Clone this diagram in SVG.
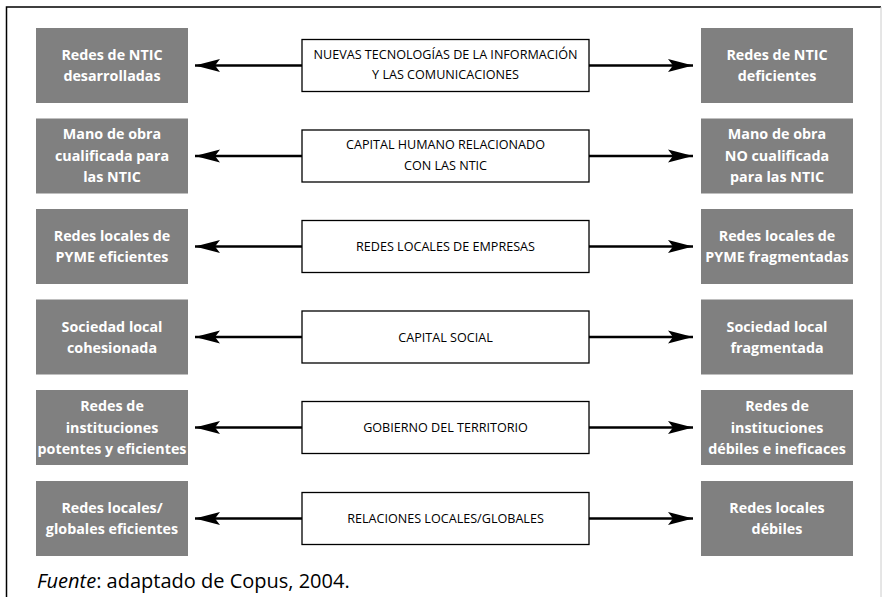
<svg xmlns="http://www.w3.org/2000/svg" width="882" height="597" viewBox="0 0 882 597">
<defs>
<marker id="ah" viewBox="0 0 25 14" refX="25" refY="7" markerWidth="25" markerHeight="14" markerUnits="userSpaceOnUse" orient="auto-start-reverse">
<path d="M0,0.5 L25,7 L0,13.5 L5,7 Z" fill="#000"/>
</marker>
<style>
.g{fill:#808080}
.c{fill:#fff;stroke:#000;stroke-width:1.3}
.gt{font-family:"Open Sans","Noto Sans",sans-serif;font-weight:bold;font-size:14.3px;fill:#fff;text-anchor:middle}
.ct{font-family:"Open Sans","Noto Sans",sans-serif;font-size:12.6px;fill:#000;text-anchor:middle}
.ln{stroke:#000;stroke-width:2.5;fill:none;marker-end:url(#ah)}
</style>
</defs>
<rect x="0" y="0" width="882" height="597" fill="#fff"/>
<path d="M6.5,597 V7 H881" fill="none" stroke="#000" stroke-width="1.5"/>
<line x1="881" y1="7" x2="881" y2="597" stroke="#ccc" stroke-width="1"/>

<g id="connectors">
<line class="ln" x1="302" y1="65.5" x2="195" y2="65.5"/>
<line class="ln" x1="589" y1="65.5" x2="693" y2="65.5"/>
<line class="ln" x1="302" y1="156" x2="195" y2="156"/>
<line class="ln" x1="589" y1="156" x2="693" y2="156"/>
<line class="ln" x1="302" y1="246.5" x2="195" y2="246.5"/>
<line class="ln" x1="589" y1="246.5" x2="693" y2="246.5"/>
<line class="ln" x1="302" y1="337" x2="195" y2="337"/>
<line class="ln" x1="589" y1="337" x2="693" y2="337"/>
<line class="ln" x1="302" y1="427.5" x2="195" y2="427.5"/>
<line class="ln" x1="589" y1="427.5" x2="693" y2="427.5"/>
<line class="ln" x1="302" y1="518.5" x2="195" y2="518.5"/>
<line class="ln" x1="589" y1="518.5" x2="693" y2="518.5"/>
</g>

<!-- Row 1 -->
<g id="l1"><rect class="g" x="36" y="28" width="152" height="75"/>
<text class="gt" x="112" y="60">Redes de NTIC</text><text class="gt" x="112" y="81">desarrolladas</text></g>
<g id="c1"><rect class="c" x="302" y="39.5" width="287" height="52"/>
<text class="ct" x="445.5" y="58.5">NUEVAS TECNOLOGÍAS DE LA INFORMACIÓN</text><text class="ct" x="445.5" y="79">Y LAS COMUNICACIONES</text></g>
<g id="r1"><rect class="g" x="701" y="28" width="152" height="75"/>
<text class="gt" x="777" y="60">Redes de NTIC</text><text class="gt" x="777" y="81">deficientes</text></g>

<!-- Row 2 -->
<g id="l2"><rect class="g" x="36" y="118.5" width="152" height="75"/>
<text class="gt" x="112" y="139">Mano de obra</text><text class="gt" x="112" y="160.5">cualificada para</text><text class="gt" x="112" y="182">las NTIC</text></g>
<g id="c2"><rect class="c" x="302" y="130" width="287" height="52"/>
<text class="ct" x="445.5" y="149">CAPITAL HUMANO RELACIONADO</text><text class="ct" x="445.5" y="169.5">CON LAS NTIC</text></g>
<g id="r2"><rect class="g" x="701" y="118.5" width="152" height="75"/>
<text class="gt" x="777" y="139">Mano de obra</text><text class="gt" x="777" y="160.5">NO cualificada</text><text class="gt" x="777" y="182">para las NTIC</text></g>

<!-- Row 3 -->
<g id="l3"><rect class="g" x="36" y="209" width="152" height="75"/>
<text class="gt" x="112" y="241">Redes locales de</text><text class="gt" x="112" y="262">PYME eficientes</text></g>
<g id="c3"><rect class="c" x="302" y="220.5" width="287" height="52"/>
<text class="ct" x="445.5" y="251">REDES LOCALES DE EMPRESAS</text></g>
<g id="r3"><rect class="g" x="701" y="209" width="152" height="75"/>
<text class="gt" x="777" y="241">Redes locales de</text><text class="gt" x="777" y="262">PYME fragmentadas</text></g>

<!-- Row 4 -->
<g id="l4"><rect class="g" x="36" y="299.5" width="152" height="75"/>
<text class="gt" x="112" y="331.5">Sociedad local</text><text class="gt" x="112" y="352.5">cohesionada</text></g>
<g id="c4"><rect class="c" x="302" y="311" width="287" height="52"/>
<text class="ct" x="445.5" y="341.5">CAPITAL SOCIAL</text></g>
<g id="r4"><rect class="g" x="701" y="299.5" width="152" height="75"/>
<text class="gt" x="777" y="331.5">Sociedad local</text><text class="gt" x="777" y="352.5">fragmentada</text></g>

<!-- Row 5 -->
<g id="l5"><rect class="g" x="36" y="390" width="152" height="75"/>
<text class="gt" x="112" y="411">Redes de</text><text class="gt" x="112" y="432.5">instituciones</text><text class="gt" x="112" y="454">potentes y eficientes</text></g>
<g id="c5"><rect class="c" x="302" y="401.5" width="287" height="52"/>
<text class="ct" x="445.5" y="432">GOBIERNO DEL TERRITORIO</text></g>
<g id="r5"><rect class="g" x="701" y="390" width="152" height="75"/>
<text class="gt" x="777" y="411">Redes de</text><text class="gt" x="777" y="432.5">instituciones</text><text class="gt" x="777" y="454">débiles e ineficaces</text></g>

<!-- Row 6 -->
<g id="l6"><rect class="g" x="36" y="481" width="152" height="75"/>
<text class="gt" x="112" y="513">Redes locales/</text><text class="gt" x="112" y="534">globales eficientes</text></g>
<g id="c6"><rect class="c" x="302" y="492.5" width="287" height="52"/>
<text class="ct" x="445.5" y="523">RELACIONES LOCALES/GLOBALES</text></g>
<g id="r6"><rect class="g" x="701" y="481" width="152" height="75"/>
<text class="gt" x="777" y="513">Redes locales</text><text class="gt" x="777" y="534">débiles</text></g>

<text x="37" y="588" font-family="'Open Sans','Noto Sans',sans-serif" font-size="20" fill="#000"><tspan font-style="italic">Fuente</tspan>: adaptado de Copus, 2004.</text>
</svg>
